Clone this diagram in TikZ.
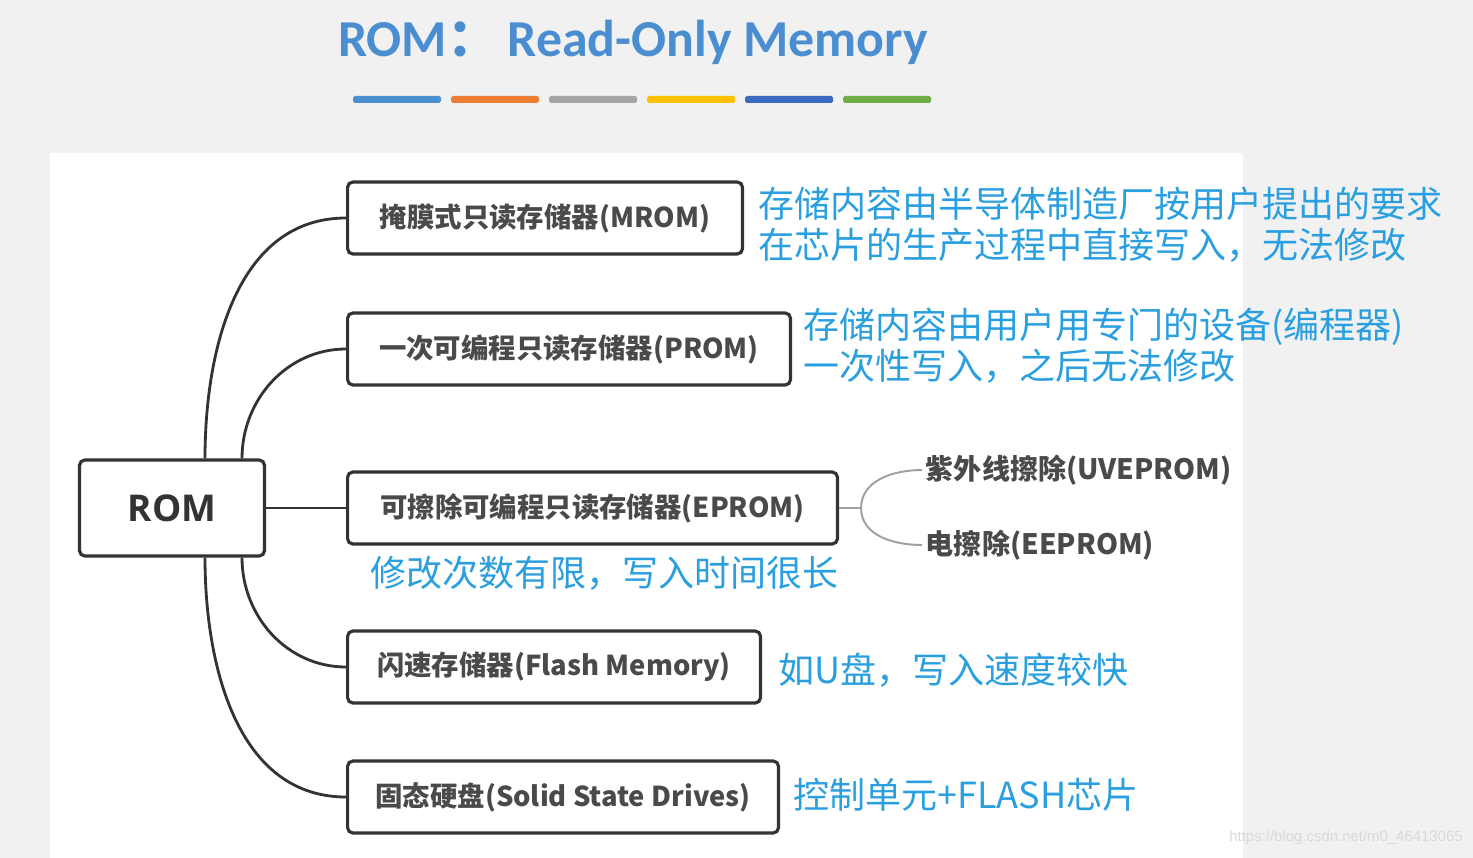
\documentclass[tikz,border=0pt]{standalone}
\usepackage{fontspec}
\usepackage{tikz}
\usetikzlibrary{positioning,calc}
\setmainfont{Open Sans}
\newfontfamily\cjk{Noto Sans CJK SC}
\newfontfamily\titlefont{Carlito}
\newfontfamily\markfont{Liberation Sans}

\definecolor{bggray}{HTML}{F1F1F1}
\definecolor{boxline}{HTML}{333333}
\definecolor{textgray}{HTML}{333333}
\definecolor{leafgray}{HTML}{4A4A4A}
\definecolor{noteblue}{HTML}{2A9FE0}
\definecolor{titleblue}{HTML}{4A8DD0}
\definecolor{forkgray}{HTML}{A0A0A0}
\definecolor{barblue}{HTML}{4A90D0}
\definecolor{barorange}{HTML}{ED7D31}
\definecolor{bargray}{HTML}{A5A5A5}
\definecolor{baryellow}{HTML}{FFC000}
\definecolor{bardark}{HTML}{3A6BC0}
\definecolor{bargreen}{HTML}{70AD47}

\tikzset{
    rootbox/.style={draw=boxline, line width=1.8pt, rounded corners=3pt, fill=white,
        minimum width=3.7cm, minimum height=1.92cm, text=textgray,
        font=\bfseries\fontsize{21}{24}\selectfont},
    leaf/.style={draw=boxline, line width=1.8pt, rounded corners=3pt, fill=white,
        anchor=west, minimum height=1.44cm, text=leafgray,
        font=\cjk\bfseries\fontsize{15.6}{18}\selectfont},
    note/.style={anchor=west, align=left, text=noteblue, inner sep=0pt,
        font=\cjk\fontsize{20.5}{23.5}\selectfont},
    sub/.style={anchor=west, text=leafgray, inner sep=2pt,
        font=\cjk\bfseries\fontsize{16}{18}\selectfont},
    branch/.style={draw=textgray, line width=1.6pt},
    fork/.style={draw=forkgray, line width=1.1pt},
}

\begin{document}
\begin{tikzpicture}[x=0.02cm, y=-0.02cm]
    % Background
    \useasboundingbox (0,0) rectangle (1473,858);
    \fill[bggray] (0,0) rectangle (1473,858);
    \fill[white] (50,153) rectangle (1243,858);

    % Title and colour bars
    \node[text=titleblue, font=\titlefont\bfseries\fontsize{29.5}{33}\selectfont] (title) at (633,42)
        {ROM{\cjk\bfseries ：}\,Read-Only Memory};
    \foreach \c [count=\i] in {barblue,barorange,bargray,baryellow,bardark,bargreen}
        \fill[\c, rounded corners=1pt] ({353+98*(\i-1)},96) rectangle +(88,7);

    % Boxes
    \node[rootbox] (rom) at (172,508) {ROM};
    \node[leaf, minimum width=7.9cm] (mrom) at (346,218) {掩膜式只读存储器(MROM)};
    \node[leaf, minimum width=8.86cm] (prom) at (346,349) {一次可编程只读存储器(PROM)};
    \node[leaf, minimum width=9.8cm] (eprom) at (346,508) {可擦除可编程只读存储器(EPROM)};
    \node[leaf, minimum width=8.26cm] (flash) at (346,667) {闪速存储器(Flash Memory)};
    \node[leaf, minimum width=8.62cm] (ssd) at (346,797) {固态硬盘(Solid State Drives)};

    % Connectors
    \draw[branch] ($(rom.north)+(33,0)$) to[out=90,in=180] (mrom.west);
    \draw[branch] ($(rom.north)+(70,0)$) to[out=90,in=180] (prom.west);
    \draw[branch] (rom.east) -- (eprom.west);
    \draw[branch] ($(rom.south)+(70,0)$) to[out=-90,in=180] (flash.west);
    \draw[branch] ($(rom.south)+(33,0)$) to[out=-90,in=180] (ssd.west);

    % EPROM kinds
    \node[sub] (uv) at (922,470) {紫外线擦除(UVEPROM)};
    \node[sub] (ee) at (922,545) {电擦除(EEPROM)};
    \coordinate (split) at ($(eprom.east)+(22,0)$);
    \draw[fork] (eprom.east) -- (split);
    \draw[fork] (split) to[out=90,in=180] (uv.west);
    \draw[fork] (split) to[out=-90,in=180] (ee.west);

    % Notes
    \node[note] (mnote) at (758,225) {存储内容由半导体制造厂按用户提出的要求\\在芯片的生产过程中直接写入，无法修改};
    \node[note] (pnote) at (803,346) {存储内容由用户用专门的设备(编程器)\\一次性写入，之后无法修改};
    \node[note] (enote) at (370,573) {修改次数有限，写入时间很长};
    \node[note] (fnote) at (778,670) {如U盘，写入速度较快};
    \node[note] (snote) at (793,795) {控制单元+FLASH芯片};

    % Watermark
    \node[anchor=east, text=black!15, inner sep=0pt, font=\markfont\fontsize{8.5}{10}\selectfont] (mark) at (1463,838)
        {https://blog.csdn.net/m0\_46413065};
\end{tikzpicture}
\end{document}
